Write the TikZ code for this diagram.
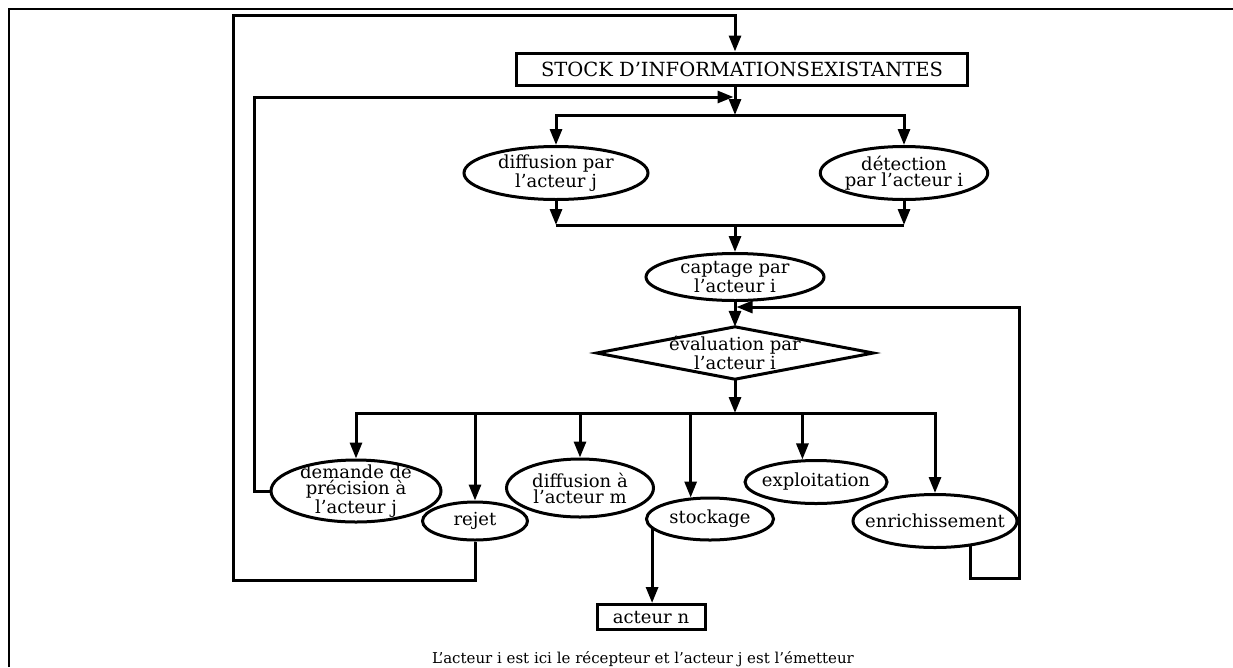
\documentclass[tikz,border=0pt]{standalone}
\usepackage{fontspec}
\setmainfont{DejaVu Serif}
\usetikzlibrary{shapes.geometric, arrows.meta, calc}

\begin{document}
\begin{tikzpicture}[
    x=1pt, y=-1pt,
    font=\fontsize{18}{16}\selectfont,
    flow/.style={-{Triangle[length=16pt, width=12pt]}, line width=3pt},
    link/.style={line width=3pt},
    bubble/.style={
        ellipse,
        draw,
        line width=3pt,
        inner sep=0pt,
        align=center
    },
    box/.style={
        rectangle,
        draw,
        line width=3pt,
        inner sep=0pt,
        text centered
    }
]

% Fix the page to the size of the scan
\useasboundingbox (0,0) rectangle (1233,667);

% === FRAME ===
\draw [link, line width=2.6pt] (9,667) -- (9,9) -- (1233,9);

% === UPPER PART: STOCK, DIFFUSION / DETECTION, CAPTAGE ===
\node (stock) [box, minimum width=451pt, minimum height=32pt, font=\fontsize{19.5}{19.5}\selectfont] at (742,69) {STOCK D'INFORMATIONSEXISTANTES};
\node (diffj) [bubble, minimum width=184pt, minimum height=53pt] at (556,173) {diffusion par\\l'acteur j};
\node (detect) [bubble, minimum width=166pt, minimum height=53pt] at (904,173) {détection\\par l'acteur i};
\node (captage) [bubble, minimum width=178pt, minimum height=47pt] at (735,277) {captage par\\l'acteur i};

% === DECISION ===
\node (eval) [minimum width=276pt, minimum height=52pt, align=center] at (735,353) {évaluation par\\l'acteur i};
\draw [link] (eval.west) -- (eval.north) -- (eval.east) -- (eval.south) -- cycle;

% === LOWER PART: OUTCOMES ===
\node (demande) [bubble, minimum width=170pt, minimum height=62pt, inner ysep=-8pt] at (356,491) {demande de\\précision à\\l'acteur j};
\node (rejet) [bubble, minimum width=105pt, minimum height=38pt] at (475,521) {rejet};
\node (diffm) [bubble, minimum width=147pt, minimum height=58pt] at (580,488) {diffusion à\\l'acteur m};
\node (stockage) [bubble, minimum width=127pt, minimum height=42pt] at (710,519) {stockage};
\node (exploit) [bubble, minimum width=142pt, minimum height=43pt, inner xsep=-5pt] at (816,482) {exploitation};
\node (enrich) [bubble, minimum width=164pt, minimum height=53pt, inner xsep=-12pt] at (935,521) {enrichissement};
\node (acteurn) [box, minimum width=108pt, minimum height=25pt] at (651,617) {acteur n};
\node (legend) [font=\fontsize{15}{15}\selectfont] at (643,659) {L'acteur i est ici le récepteur et l'acteur j est l'émetteur};

% Junctions and loop corners
\coordinate (topsplit) at (735,115);
\coordinate (topjoin) at (735,225);
\coordinate (botsplit) at (735,413);
\coordinate (rejloopA) at (233,580);
\coordinate (rejloopB) at (233,15);
\coordinate (demloop) at (254,97);
\coordinate (enrloopA) at (1019,578);
\coordinate (enrloopB) at (1019,307);

% === CONNECTORS ===
\draw [flow] (rejet.south) |- (rejloopA) -- (rejloopB) -| (stock.north -| topsplit);
\draw [flow, shorten >=1.5pt] (demande.west) -| (demloop) -- (demloop -| topsplit);
\draw [flow] (stock.south -| topsplit) -- (topsplit);
\draw [flow] (topsplit) -| (diffj.north);
\draw [flow] (topsplit) -| (detect.north);
\draw [flow] (diffj.south) -- (diffj.south |- topjoin);
\draw [flow] (detect.south) -- (detect.south |- topjoin);
\draw [link] (diffj.south |- topjoin) -- (detect.south |- topjoin);
\draw [flow] (topjoin) -- (captage.north);
\draw [flow] (captage.south) -- (eval.north);
\draw [flow, shorten >=1.5pt] (enrich.324) |- (enrloopA) -- (enrloopB) -- (enrloopB -| captage);
\draw [flow] (eval.south) -- (botsplit);
\draw [flow] (botsplit) -| (demande.north);
\draw [flow] (botsplit) -| (rejet.north);
\draw [flow] (botsplit) -| (diffm.north);
\draw [flow] (botsplit) -| (stockage.132);
\draw [flow] (botsplit) -| (exploit.121);
\draw [flow] (botsplit) -| (enrich.north);
\draw [flow] (stockage.190) -- (stockage.190 |- acteurn.north);

\end{tikzpicture}
\end{document}
